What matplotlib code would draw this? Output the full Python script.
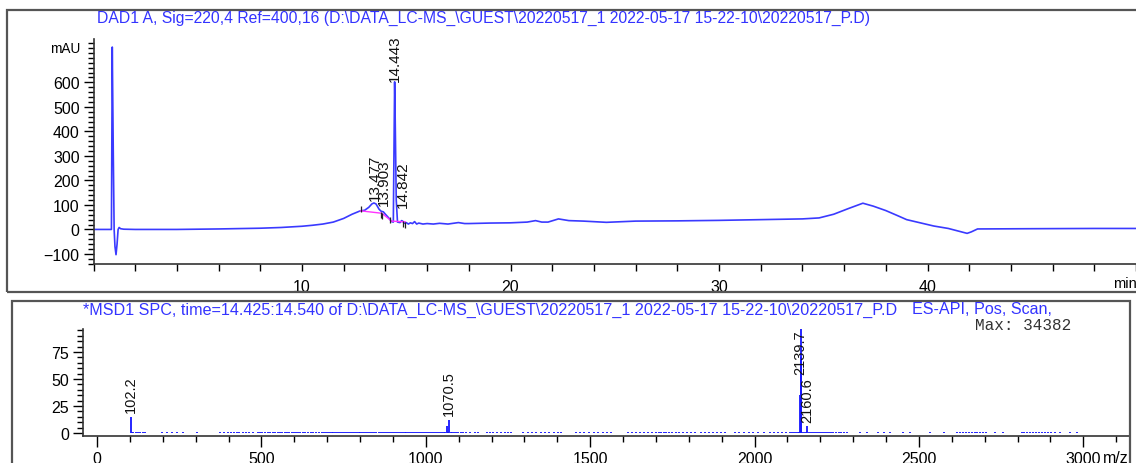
import matplotlib
matplotlib.use("Agg")
import matplotlib.pyplot as plt
from matplotlib.ticker import MultipleLocator, FixedLocator
from matplotlib.patches import Rectangle

plt.rcParams['font.family'] = ['Liberation Sans', 'DejaVu Sans']

W, H = 1136, 464

# --- DAD trace (220 nm) ---
rt_min = [0, 0.86, 0.90, 0.95, 0.99, 1.03, 1.08, 1.13, 1.18, 1.23, 1.30, 1.45,
          2.0, 4.0, 6.0, 8.0, 9.0, 10.0, 10.5, 11.0, 11.5, 12.0, 12.4, 12.8,
          13.0, 13.2, 13.35, 13.45, 13.55, 13.7, 13.8, 13.9, 14.0, 14.15, 14.3,
          14.38, 14.42, 14.443, 14.47, 14.52, 14.58, 14.7, 14.78, 14.84, 14.9,
          15.0, 15.1, 15.2, 15.3, 15.4, 15.5, 15.6, 15.8, 16.0, 16.3, 16.6,
          17.0, 17.5, 17.8, 18.0, 19.0, 20.0, 20.8, 21.2, 21.5, 21.8, 22.3,
          22.8, 23.5, 24.6, 26.0, 28.0, 30.0, 32.0, 34.0, 34.8, 35.5, 36.2,
          36.9, 37.4, 38.0, 38.6, 39.0, 40.3, 41.0, 41.9, 42.1, 42.4, 45.0,
          48.0, 50.0]
dad_mau = [0, 0, 744, 300, 0, -70, -103, -60, 0, 8, 3, 1,
           0, 0, 2, 5, 8, 13, 17, 22, 30, 45, 62, 76,
           78, 90, 104, 108, 104, 82, 74, 72, 62, 48, 32,
           30, 400, 602, 450, 120, 30, 28, 36, 33, 25,
           28, 22, 27, 24, 32, 22, 26, 22, 24, 22, 25,
           22, 28, 24, 24, 26, 27, 30, 36, 30, 30, 43,
           36, 34, 29, 34, 35, 37, 40, 43, 47, 62, 85,
           107, 95, 77, 55, 40, 14, 4, -16, -10, 2, 3,
           4, 4]

# integration baseline and event marks
base_rt = [12.80, 13.83, 14.30, 14.95]
base_mau = [76, 66, 34, 31]
event_rt = [12.82, 13.77, 13.85, 14.22, 14.85, 14.92]
event_mau = [82, 60, 56, 40, 22, 18]

peak_rt = [13.477, 13.903, 14.443, 14.842]
peak_label_mau = [122, 98, 606, 90]

# --- MS spectrum ---
ion_mz = [102.2, 1063.0, 1070.5, 2138.6, 2139.7, 2140.7, 2160.6]
ion_abund = [15, 6, 12.3, 35, 100, 70, 6]
labelled_mz = [102.2, 1070.5, 2139.7, 2160.6]
labelled_abund = [15, 12.3, 100, 6]

noise_mz = [
    106, 110, 118, 124, 131, 140, 145,
    197, 212, 227, 242, 261, 303,
    373, 385, 399, 408, 415, 424, 433, 445, 452, 461, 473,
    488, 496, 503, 512, 519, 527, 534, 541, 549, 556, 563, 570, 578, 585,
    592, 598, 604, 611, 617, 625, 633, 641, 650, 658, 666, 675, 683, 690,
    697, 703, 708, 713, 719, 724, 730, 736, 742, 748, 754, 760, 766, 772,
    778, 784, 790, 796, 801, 806, 812, 818, 824, 830, 836, 842, 848,
    858, 864, 870, 876, 882, 888, 894, 900, 906, 912, 918, 924, 930, 936,
    941, 947, 953, 958, 964, 970, 976, 982, 988, 994, 1000, 1006, 1012,
    1018, 1024, 1030, 1036, 1042, 1048, 1054, 1058, 1066, 1075, 1080, 1086,
    1092, 1098, 1106, 1114, 1122, 1135, 1148, 1160,
    1185, 1195, 1205, 1216, 1228, 1240, 1251, 1260,
    1297, 1310, 1322, 1336, 1350, 1362, 1375, 1390, 1402, 1412,
    1458, 1470, 1482, 1496, 1510, 1525, 1540, 1552, 1564,
    1615, 1628, 1640, 1652, 1664, 1676, 1688, 1700, 1708, 1716, 1724, 1732,
    1740, 1750, 1760, 1770, 1782, 1794, 1806, 1818,
    1836, 1848, 1860, 1872, 1885, 1897, 1909,
    1939, 1954, 1968, 1982, 1996, 2010, 2030,
    2048, 2060, 2072, 2084, 2096, 2108, 2115, 2121, 2126, 2131, 2135, 2145,
    2150, 2155, 2166, 2172, 2178, 2184, 2190, 2196, 2202, 2208, 2214, 2220,
    2226, 2232, 2240, 2248, 2256, 2264, 2272, 2282,
    2321, 2341, 2376, 2394, 2412, 2452, 2472, 2533, 2576,
    2615, 2624, 2633, 2642, 2651, 2660, 2669, 2678, 2687, 2696, 2705,
    2730, 2755,
    2812, 2821, 2830, 2839, 2848, 2857, 2866, 2875, 2884, 2893, 2902, 2914,
    2930, 2960, 2980,
]
noise_level = 1.3

TRACE = '#3a3aff'
TITLE = '#3333ff'
FRAME = '#555555'
TICK_FS = 11.5
TITLE_FS = 11.3


def fx(px):
    return px / W


def fy(py):
    return 1 - py / H


fig = plt.figure(figsize=(W / 100, H / 100), dpi=100)

# panel frames
fig.add_artist(Rectangle((fx(7), fy(293)), fx(1140 - 7), fy(11) - fy(293),
                         transform=fig.transFigure, fill=False, ec=FRAME, lw=1.6))
fig.add_artist(Rectangle((fx(12), fy(470)), fx(1130 - 12), fy(302) - fy(470),
                         transform=fig.transFigure, fill=False, ec=FRAME, lw=1.6))

# ---------------- chromatogram ----------------
ax1 = fig.add_axes([fx(93.5), fy(265), fx(1136 - 93.5), fy(40) - fy(265)])
ax1.plot(rt_min, dad_mau, color=TRACE, lw=1.2)
ax1.plot(base_rt, base_mau, color='#ff33ff', lw=1.0)
ax1.vlines(event_rt, [m - 12 for m in event_mau], [m + 12 for m in event_mau],
           color='#222222', lw=0.9)
for t, m in zip(peak_rt, peak_label_mau):
    ax1.text(t, m, f"{t:.3f}", rotation=90, ha='center', va='bottom',
             fontsize=11, color='#111111')

ax1.set_xlim(0, 50)
ax1.set_ylim(-141, 777)
ax1.xaxis.set_major_locator(FixedLocator([10, 20, 30, 40]))
ax1.xaxis.set_minor_locator(MultipleLocator(2))
ax1.yaxis.set_major_locator(FixedLocator([-100, 0, 100, 200, 300, 400, 500, 600]))
ax1.yaxis.set_minor_locator(MultipleLocator(20))
ax1.tick_params(axis='x', which='both', length=5, width=1, direction='out',
                labelsize=TICK_FS, pad=6)
ax1.tick_params(axis='y', which='major', length=7, width=1, labelsize=TICK_FS, pad=3)
ax1.tick_params(axis='y', which='minor', length=4, width=1)
for s in ('top', 'right'):
    ax1.spines[s].set_visible(False)
for s in ('left', 'bottom'):
    ax1.spines[s].set_linewidth(1.2)
    ax1.spines[s].set_color('#333333')
ax1.patch.set_alpha(0)

fig.text(fx(80), fy(49), 'mAU', ha='right', va='center', fontsize=9.8)
fig.text(fx(1137), fy(284), 'min', ha='right', va='center', fontsize=10.5)
fig.text(fx(97), fy(18),
         r'DAD1 A, Sig=220,4 Ref=400,16 (D:\DATA_LC-MS_\GUEST\20220517_1 2022-05-17 15-22-10\20220517_P.D)',
         ha='left', va='center', fontsize=TITLE_FS, color=TITLE)

# ---------------- mass spectrum ----------------
ax2 = fig.add_axes([fx(83), fy(437), fx(1130 - 83), fy(330) - fy(437)])
ax2.vlines(noise_mz, 0, noise_level, color='#1515ff', lw=1.3)
ax2.vlines(ion_mz, 0, ion_abund, color='#1515ff', lw=1.3)
for mz, ab in zip(labelled_mz, labelled_abund):
    if ab > 90:
        ax2.text(mz, 96, f"{mz:.1f}", rotation=90, ha='center', va='top',
                 fontsize=10.5, color='#111111')
    else:
        ax2.text(mz, ab + 4, f"{mz:.1f}", rotation=90, ha='center', va='bottom',
                 fontsize=10.5, color='#111111')

ax2.set_xlim(-43, 3142)
ax2.set_ylim(-2.8, 96.3)
ax2.xaxis.set_major_locator(MultipleLocator(500))
ax2.xaxis.set_minor_locator(MultipleLocator(100))
ax2.yaxis.set_major_locator(FixedLocator([0, 25, 50, 75]))
ax2.yaxis.set_minor_locator(MultipleLocator(5))
ax2.tick_params(axis='x', which='major', length=8, width=1, labelsize=TICK_FS, pad=3)
ax2.tick_params(axis='x', which='minor', length=4, width=1)
ax2.tick_params(axis='y', which='major', length=7, width=1, labelsize=TICK_FS, pad=3)
ax2.tick_params(axis='y', which='minor', length=4, width=1)
for s in ('top', 'right'):
    ax2.spines[s].set_visible(False)
for s in ('left', 'bottom'):
    ax2.spines[s].set_linewidth(1.2)
    ax2.spines[s].set_color('#333333')
ax2.patch.set_alpha(0)

fig.text(fx(1129), fy(459), 'm/z', ha='right', va='center', fontsize=TICK_FS)
fig.text(fx(83), fy(310),
         r'*MSD1 SPC, time=14.425:14.540 of D:\DATA_LC-MS_\GUEST\20220517_1 2022-05-17 15-22-10\20220517_P.D',
         ha='left', va='center', fontsize=11.6, color=TITLE)
fig.text(fx(912), fy(310), 'ES-API, Pos, Scan,', ha='left', va='center',
         fontsize=11.6, color=TITLE)
fig.text(fx(975), fy(326), 'Max: 34382', ha='left', va='center',
         fontsize=11.5, color='#333333', family=['Liberation Mono', 'DejaVu Sans Mono'])

fig.savefig('out.png', dpi=100)
